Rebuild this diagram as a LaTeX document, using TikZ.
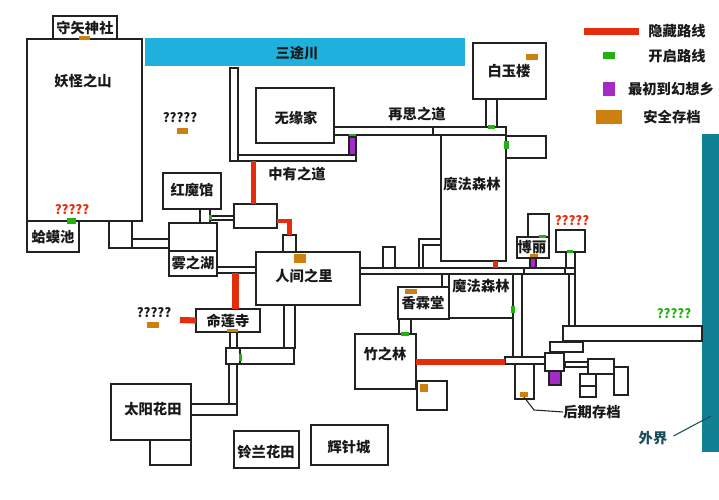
\documentclass[tikz,border=0pt]{standalone}
\usepackage{fontspec}
\setmainfont{Noto Sans CJK SC}
\usetikzlibrary{calc,fit}
\definecolor{hidecol}{HTML}{E32D0B}
\definecolor{opencol}{HTML}{22B014}
\definecolor{firstcol}{HTML}{A52BC8}
\definecolor{savecol}{HTML}{CC8010}
\definecolor{rivercol}{HTML}{20B0DE}
\definecolor{edgecol}{HTML}{118093}
\definecolor{edgetext}{HTML}{1A4D5A}
\definecolor{wallcol}{HTML}{222222}
\begin{document}
\begin{tikzpicture}[x=0.75pt,y=-0.75pt,
	room/.style={draw=wallcol,line width=1.15pt,fit={#1},inner sep=0pt,outer sep=0pt},
	wall/.style={draw=wallcol,line width=1.15pt},
	lab/.style={font=\bfseries\fontsize{10.7}{12}\selectfont,inner sep=0pt,text=black!90},
	qmark/.style={font=\bfseries\fontsize{9.6}{12}\selectfont,inner sep=0pt,text=black!90},
	hide/.style={draw=hidecol,line width=#1},
	open/.style={fill=opencol},
	first/.style={fill=firstcol},
	firstbox/.style={fill=firstcol,draw=wallcol,line width=1.15pt},
	save/.style={fill=savecol}]
	\useasboundingbox (0,0) rectangle (719,500);

	\fill[rivercol] (145,38) rectangle (465,66);
	\fill[edgecol] (702,134) rectangle (719,452);

	%rooms, left side
	\node[room={(53,16) (117,39)}] (shenshe) {};
	\node[room={(27,39) (142,221)}] (yaoguai) {};
	\node[room={(27,221) (79,252)}] (hama) {};
	\node[room={(109,221) (132,248)}] (hamaside) {};
	\node[room={(132,239) (169,248)}] (hamaway) {};
	\node[room={(163,173) (221,209)}] (hongmo) {};
	\node[room={(200,209) (210,223)}] (hongway) {};
	\node[room={(169,223) (217,251)}] (lakeup) {};
	\node[room={(169,251) (217,276)}] (wuzhi) {};
	\node[room={(210,216) (234,220)}] (midway) {};
	\node[room={(234,204) (277,228)}] (midroom) {};
	\node[room={(283,235) (296,252)}] (gate) {};
	\node[room={(217,267) (256,273)}] (lakeway) {};
	\node[room={(256,252) (360,305)}] (renjian) {};

	%rooms, lower left
	\node[room={(196,309) (260,332)}] (minglian) {};
	\node[room={(230,332) (237,348)}] (templeway) {};
	\node[room={(284,305) (295,348)}] (villageway) {};
	\node[room={(240,348) (294,364)}] (crossway) {};
	\node[room={(226,348) (240,364)}] (crossroom) {};
	\node[room={(229,364) (237,404)}] (sunway) {};
	\node[room={(191,404) (237,415)}] (sunwayb) {};
	\node[room={(111,384) (191,440)}] (taiyang) {};
	\node[room={(150,440) (191,465)}] (sunside) {};
	\node[room={(234,431) (299,468)}] (linglan) {};
	\node[room={(311,425) (388,465)}] (huizhen) {};

	%rooms, top
	\node[room={(230,68) (238,161)}] (upway) {};
	\node[room={(238,155) (356,161)}] (zhongyou) {};
	\node[room={(256,88) (334,143)}] (wuyuan) {};
	\node[room={(334,127) (433,135)}] (zaisi) {};
	\node[room={(433,127) (506,135)}] (zaisib) {};
	\node[room={(441,135) (506,261)}] (senlin) {};
	\node[room={(473,43) (546,99)}] (baiyu) {};
	\node[room={(486,99) (497,127)}] (baiyuway) {};
	\node[room={(506,136) (546,158)}] (senside) {};

	%long corridor
	\node[room={(360,268) (524,274)}] (longway) {};
	\node[room={(524,268) (565,274)}] (longwayb) {};
	\node[room={(565,268) (575,274)}] (longwayc) {};
	\node[room={(383,247) (395,268)}] (stub) {};
	\draw[wall] (longway.north west -| 419,0) |- (441,239);
	\draw[wall] (longway.north west -| 423,0) |- (441,245);
	\node[room={(528,214) (549,237)}] (boliup) {};
	\node[room={(517,237) (549,258)}] (boli) {};
	\node[room={(556,230) (585,252)}] (boliside) {};
	\node[room={(566,252) (575,268)}] (bolisideway) {};
	\node[room={(569,274) (575,326)}] (downway) {};

	%rooms, lower middle
	\node[room={(442,274) (449,287)}] (xiangway) {};
	\node[room={(398,287) (449,319)}] (xianglin) {};
	\node[room={(449,274) (513,318)}] (senlinb) {};
	\node[room={(513,274) (522,357)}] (senway) {};
	\node[room={(399,319) (411,334)}] (bambooway) {};
	\node[room={(355,334) (416,389)}] (zhuzhi) {};
	\node[room={(417,381) (447,410)}] (bambooside) {};

	%rooms, lower right
	\node[room={(505,357) (545,364)}] (eastway) {};
	\node[room={(515,364) (534,399)}] (houqi) {};
	\node[room={(545,353) (564,371)}] (eastroom) {};
	\node[room={(563,326) (702,341)}] (farway) {};
	\node[room={(550,342) (583,352)}] (farroom) {};
	\node[room={(565,362) (588,367)}] (eastwayb) {};
	\node[room={(588,359) (614,374)}] (eroom) {};
	\node[room={(614,367) (628,395)}] (eroomb) {};
	\node[room={(580,374) (596,386)}] (eroomc) {};
	\node[room={(580,386) (596,397)}] (eroomd) {};

	%hidden routes
	\coordinate (qleft) at (180,320);
	\draw[hide=3.2pt] ($(midroom.north)+(-2,0)$) -- ($(midroom.north |- zhongyou.south)+(-2,0)$);
	\draw[hide=3.2pt] ($(midroom.east)+(0,5)$) -| (gate.north);
	\draw[hide=5.2pt] ($(lakeway.south)+(-1,0)$) -- ($(minglian.north -| lakeway.south)+(-1,0)$);
	\draw[hide=4.6pt] (minglian.west) -- (qleft);
	\draw[hide=3.8pt] ($(senlin.south)+(22,0)$) -- ($(senlin.south |- longway.north)+(22,0)$);
	\draw[hide=3.8pt] ($(eastway.west)+(0,1.5)$) -- ($(eastway.west -| zhuzhi.east)+(0,1.5)$);

	%save points
	\fill[save] (79,36) rectangle (90,40);
	\fill[save] (177,127.5) rectangle (188,133.5);
	\fill[save] (147,322) rectangle (159,327.5);
	\fill[save] (294,254) rectangle (306,263);
	\fill[save] (227,329) rectangle (238,332);
	\fill[save] (526,54) rectangle (538,60);
	\fill[save] (405,289) rectangle (417,294);
	\fill[save] (530,254) rectangle (538,257);
	\fill[save] (420,384) rectangle (428,392);
	\fill[save] (520,392) rectangle (528,397);

	%open points
	\fill[open] (67,218) rectangle (76,224);
	\fill[open] (209,215) rectangle (212,220);
	\fill[open] (239,354) rectangle (242,361);
	\fill[open] (349,134) rectangle (356,137);
	\fill[open] (488,125) rectangle (495,129);
	\fill[open] (504,141) rectangle (509,149);
	\fill[open] (539,235) rectangle (546,238);
	\fill[open] (567,250) rectangle (573,253);
	\fill[open] (511,306) rectangle (515,313);
	\fill[open] (401,332) rectangle (409,336);

	%first points
	\draw[firstbox] (349,137) rectangle (356,155);
	\draw[firstbox] (530,258) rectangle (536,268);
	\draw[firstbox] (549,371) rectangle (561,385);

	%legend
	\fill[hidecol] (584,28) rectangle (639,35);
	\fill[open] (603,52) rectangle (615,59);
	\fill[first] (603,82) rectangle (615,96);
	\fill[save] (596,110) rectangle (622,124);

	%labels
	\node[lab] (t1) at (85,28) {守矢神社};
	\node[lab] (t2) at (83,81) {妖怪之山};
	\node[lab] (t3) at (53,237) {蛤蟆池};
	\node[lab] (t4) at (192,190) {红魔馆};
	\node[lab] (t5) at (193,263) {雾之湖};
	\node[lab] (t6) at (297,53) {三途川};
	\node[lab] (t7) at (296,118) {无缘家};
	\node[lab] (t8) at (417,114) {再思之道};
	\node[lab] (t9) at (297,174) {中有之道};
	\node[lab] (t10) at (509,71) {白玉楼};
	\node[lab] (t11) at (472,184) {魔法森林};
	\node[lab] (t12) at (304,276) {人间之里};
	\node[lab] (t13) at (228,321) {命莲寺};
	\node[lab] (t14) at (153,409) {太阳花田};
	\node[lab] (t15) at (266,452) {铃兰花田};
	\node[lab] (t16) at (349,447) {辉针城};
	\node[lab] (t17) at (423,303) {香霖堂};
	\node[lab] (t18) at (481,286) {魔法森林};
	\node[lab] (t19) at (532,247) {博丽};
	\node[lab] (t20) at (385,354) {竹之林};
	\node[lab] (t21) at (592,412) {后期存档};

	\node[qmark] (q1) at (180,118) {?????};
	\node[qmark] (q2) at (154,313) {?????};
	\node[qmark,text=hidecol] (q3) at (72,210) {?????};
	\node[qmark,text=hidecol] (q4) at (572,221) {?????};
	\node[qmark,text=opencol] (q5) at (674,314) {?????};

	\node[lab] (l1) at (677,31) {隐藏路线};
	\node[lab] (l2) at (677,56) {开启路线};
	\node[lab] (l3) at (671,89) {最初到幻想乡};
	\node[lab] (l4) at (672,117) {安全存档};

	\node[lab,text=edgetext] (t22) at (653,438) {外界};
	\coordinate (edgept) at (711,416);
	\draw[edgetext,line width=0.8pt] (t22.east)+(6,-2) -- (edgept);

	\coordinate (savept) at (524,397);
	\draw[wallcol,line width=0.8pt] (savept) -- (534,410) -- (t21.west);
\end{tikzpicture}
\end{document}
